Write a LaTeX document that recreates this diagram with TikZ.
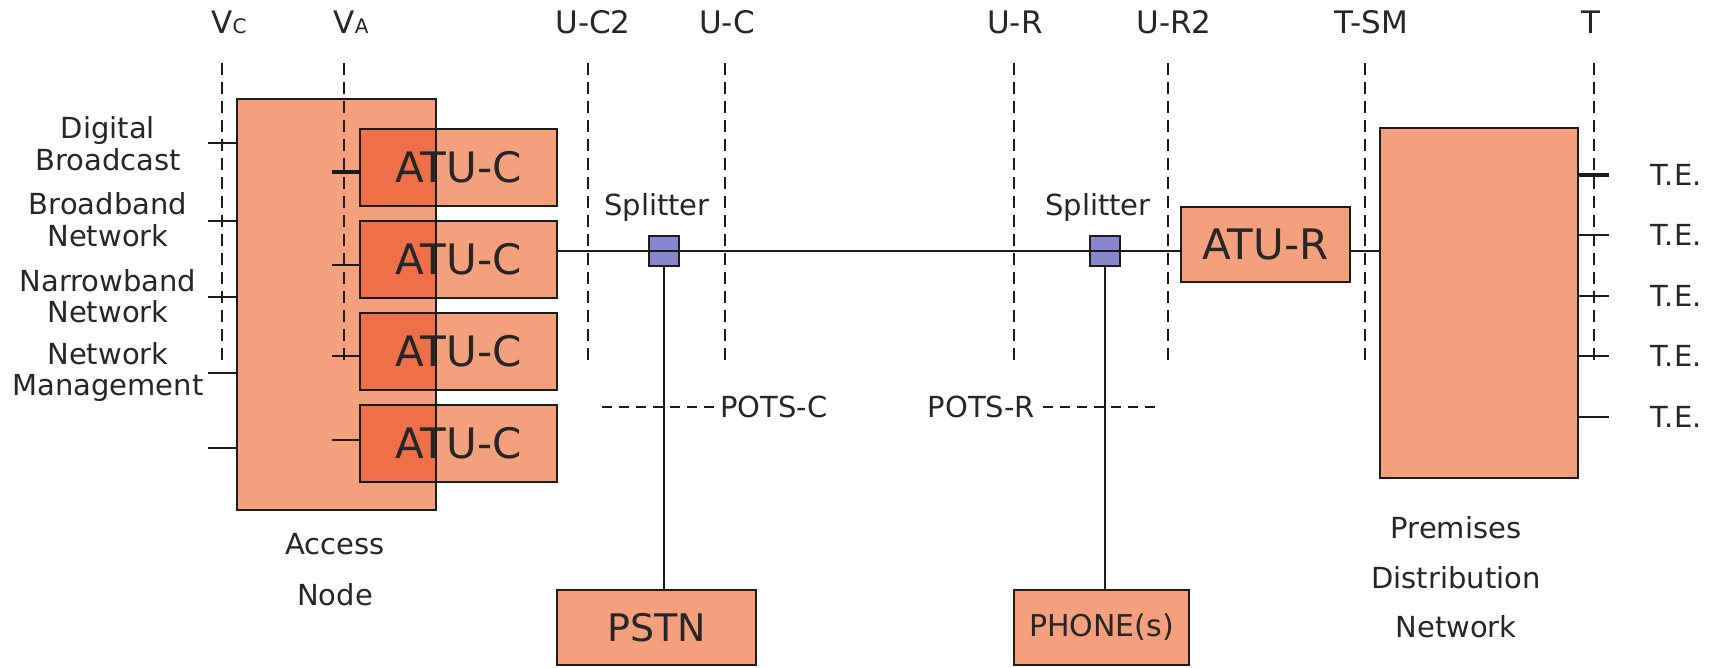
\documentclass[tikz,border=0pt]{standalone}
\usepackage{fontspec}
\setmainfont{DejaVu Sans}
\definecolor{salmon}{HTML}{F5A07C}
\definecolor{deepsalmon}{HTML}{EF7048}
\definecolor{splitblue}{HTML}{8886CC}
\definecolor{ink}{HTML}{1C1C1C}
\definecolor{txt}{HTML}{262626}
\pgfdeclarelayer{fills}
\pgfsetlayers{fills,main}
\begin{document}
\begin{tikzpicture}[x=1pt,y=-1pt,
  box/.style={draw=ink, line width=2.6pt, inner sep=0pt, outer sep=0pt, text=txt},
  refline/.style={draw=ink, line width=2.4pt, dash pattern=on 12pt off 7pt},
  potsline/.style={draw=ink, line width=2.2pt, dash pattern=on 10pt off 7pt},
  wire/.style={draw=ink, line width=2pt},
  lbl/.style={text=txt, font=\fontsize{29}{31}\selectfont, inner sep=0pt},
  toplbl/.style={text=txt, font=\fontsize{31}{33}\selectfont, inner sep=0pt},
  atufont/.style={font=\fontsize{42}{44}\selectfont},
]
\useasboundingbox (0,0) rectangle (1719,667);

% reference point labels and their dashed lines
\node[toplbl] (lvc)  at (229,22)  {V\fontsize{20}{20}\selectfont C};
\node[toplbl] (lva)  at (351,22)  {V\fontsize{20}{20}\selectfont A};
\node[toplbl] (luc2) at (593,22)  {U-C2};
\node[toplbl] (luc)  at (727,22)  {U-C};
\node[toplbl] (lur)  at (1015,22) {U-R};
\node[toplbl] (lur2) at (1174,22) {U-R2};
\node[toplbl] (ltsm) at (1371,22) {T-SM};
\node[toplbl] (lt)   at (1591,22) {T};
\foreach \n/\x in {vc/222, va/344, uc2/588, uc/725, ur/1014, ur2/1168, tsm/1365, t/1594}{
  \coordinate (\n top) at (\x,63);
  \coordinate (\n bot) at (\x,360);
  \draw[refline] (\n top) -- (\n bot);
}

% access node and the ATU-C line cards
\node[box, minimum width=199pt, minimum height=411pt] (an) at (336.5,304.5) {};
\foreach \i/\y in {1/167.5, 2/259.5, 3/351.5, 4/443.5}{
  \node[box, atufont, minimum width=197pt, minimum height=77pt] (atu\i) at (458.5,\y) {ATU-C};
}
\begin{pgfonlayer}{fills}
  \fill[salmon] (an.north west) rectangle (an.south east);
  \foreach \i in {1,...,4}{
    \fill[salmon] (atu\i.north west) rectangle (atu\i.south east);
    \fill[deepsalmon] (atu\i.north west) rectangle (an.east |- atu\i.south);
  }
\end{pgfonlayer}
\node[lbl] (anl1) at (335,544) {Access};
\node[lbl] (anl2) at (335,595) {Node};

% service networks on the left
\node[lbl, align=center, font=\fontsize{29}{31.5}\selectfont] (db) at (108,143.5) {Digital\\Broadcast};
\node[lbl, align=center, font=\fontsize{29}{31.5}\selectfont] (bb) at (108,219.5) {Broadband\\Network};
\node[lbl, align=center, font=\fontsize{29}{31.5}\selectfont] (nb) at (108,296) {Narrowband\\Network};
\node[lbl, align=center, font=\fontsize{29}{31.5}\selectfont] (nm) at (108,372) {Network\\Management};
\foreach \i/\y in {1/143, 2/221, 3/297, 4/373, 5/448}{
  \coordinate (in\i) at (208,\y);
  \draw[wire] (in\i) -- (in\i -| an.west);
}
\foreach \i/\y in {1/172, 2/265, 3/356, 4/440}{
  \coordinate (st\i) at (332,\y);
  \draw[wire] (st\i) -- (st\i -| atu\i.west);
}
\draw[wire, line width=3.4pt] (st1) -- (st1 -| atu1.west);

% splitters
\node[box, fill=splitblue, minimum size=30pt] (sp1) at (664,251) {};
\node[box, fill=splitblue, minimum size=30pt] (sp2) at (1105,251) {};
\node[lbl] (sp1l) at (657,207) {Splitter};
\node[lbl] (sp2l) at (1098,207) {Splitter};

% remote unit and premises network
\node[box, fill=salmon, atufont, minimum width=169pt, minimum height=75pt] (atur) at (1265.5,244.5) {ATU-R};
\node[box, fill=salmon, minimum width=198pt, minimum height=350pt] (pdn) at (1479,303) {};
\node[lbl] (pdl1) at (1456,528) {Premises};
\node[lbl] (pdl2) at (1456,578) {Distribution};
\node[lbl] (pdl3) at (1456,627) {Network};

% voice side
\node[box, fill=salmon, font=\fontsize{38}{40}\selectfont, minimum width=199pt, minimum height=75pt] (pstn) at (656.5,627.5) {PSTN};
\node[box, fill=salmon, font=\fontsize{30}{32}\selectfont, minimum width=175pt, minimum height=75pt] (phone) at (1101.5,627.5) {PHONE(s)};

% the line
\draw[wire] (atu2.east |- sp1) -- (sp1.center) -- (sp2.center) -- (sp2 -| atur.west);
\draw[wire] (atur.east |- sp2) -- (pdn.west |- sp2);
\draw[wire] (sp1.south) -- (sp1.south |- pstn.north);
\draw[wire] (sp2.south) -- (sp2.south |- phone.north);

% POTS reference points
\coordinate (pcl) at (602,407);
\node[lbl, anchor=west] (potsc) at (720,407) {POTS-C};
\draw[potsline] (pcl) -- (potsc.west);
\node[lbl, anchor=east] (potsr) at (1035,407) {POTS-R};
\coordinate (prr) at (1161,407);
\draw[potsline] ([xshift=8pt]potsr.east) -- (prr);

% terminal equipment
\foreach \i/\y in {1/175, 2/235, 3/296, 4/356, 5/417}{
  \coordinate (te\i) at (1609,\y);
  \draw[wire] (pdn.east |- te\i) -- (te\i);
  \node[lbl] (tel\i) at (1676,\y) {T.E.};
}
\draw[wire, line width=3.4pt] (pdn.east |- te1) -- (te1);
\end{tikzpicture}
\end{document}
